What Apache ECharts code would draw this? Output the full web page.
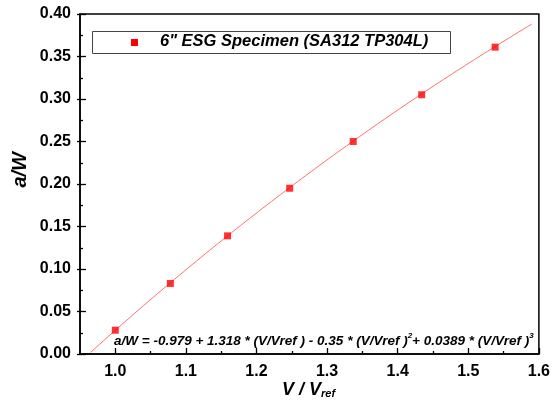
<!DOCTYPE html>
<html>
<head>
<meta charset="utf-8">
<script src="https://cdn.jsdelivr.net/npm/echarts@6/dist/echarts.min.js"></script>
<style>
  html, body { margin: 0; padding: 0; background: #fff; }
  #chart { width: 553px; height: 413px; }
</style>
</head>
<body>
<div id="chart"></div>
<script>
// Measured crack depth ratio against normalised potential drop
const ratioV = [1.0, 1.078, 1.159, 1.247, 1.337, 1.434, 1.538];
const ratioAW = [0.028, 0.083, 0.139, 0.195, 0.250, 0.305, 0.361];

// Cubic fit coefficients, a/W = c0 + c1*x + c2*x^2 + c3*x^3
const fitCoef = [-0.979, 1.318, -0.35, 0.0389];
const fitRange = [0.965, 1.59];

// Tick positions on the V/Vref axis
const xMajor = [1.0, 1.1, 1.2, 1.3, 1.4, 1.5, 1.6];
const xMinor = [1.05, 1.15, 1.25, 1.35, 1.45, 1.55];

const seriesName = '6" ESG Specimen (SA312 TP304L)';

function fitValue(x) {
  return fitCoef[0] + fitCoef[1] * x + fitCoef[2] * x * x + fitCoef[3] * x * x * x;
}
const fitLine = [];
for (let i = 0; i <= 100; i++) {
  const x = fitRange[0] + (fitRange[1] - fitRange[0]) * i / 100;
  fitLine.push([x, fitValue(x)]);
}

const chart = echarts.init(document.getElementById('chart'));
const font = 'Liberation Sans, Arial, sans-serif';
const tickStyle = { color: '#000', width: 1.3 };

chart.setOption({
  animation: false,
  backgroundColor: '#fff',
  grid: { left: 80, right: 13, top: 14, bottom: 59, show: true, borderColor: '#000', borderWidth: 1.5, backgroundColor: 'transparent' },
  xAxis: [{
    type: 'value', min: 0.95, max: 1.6, interval: 0.05,
    axisLine: { lineStyle: { color: '#000', width: 1.5 } },
    axisTick: { inside: true, length: 6, lineStyle: tickStyle, customValues: xMajor },
    splitLine: { show: false },
    axisLabel: {
      customValues: xMajor, margin: 10,
      color: '#000', fontFamily: font, fontWeight: 'bold', fontSize: 16,
      formatter: v => v.toFixed(1)
    }
  }, {
    type: 'value', min: 0.95, max: 1.6, interval: 0.05, position: 'bottom',
    axisLine: { show: false },
    axisTick: { inside: true, length: 3, lineStyle: tickStyle, customValues: xMinor },
    axisLabel: { show: false },
    splitLine: { show: false }
  }],
  yAxis: [{
    type: 'value', min: 0, max: 0.4, interval: 0.05,
    axisLine: { lineStyle: { color: '#000', width: 1.5 } },
    axisTick: { inside: true, length: 6, lineStyle: tickStyle },
    minorTick: { show: true, splitNumber: 2, length: 3, lineStyle: tickStyle },
    splitLine: { show: false },
    axisLabel: {
      margin: 9, color: '#000', fontFamily: font, fontWeight: 'bold', fontSize: 16,
      formatter: v => v.toFixed(2)
    }
  }, {
    type: 'value', min: 0, max: 0.4, interval: 0.05, position: 'left',
    axisLine: { show: false },
    axisTick: { inside: false, length: 3, lineStyle: tickStyle },
    axisLabel: { show: false },
    splitLine: { show: false }
  }],
  series: [{
    name: 'fit', type: 'line', data: fitLine, showSymbol: false, silent: true,
    lineStyle: { color: '#ff6f6f', width: 1 }, z: 2
  }, {
    name: seriesName, type: 'scatter',
    data: ratioV.map((v, i) => [v, ratioAW[i]]),
    symbol: 'rect', symbolSize: 7, itemStyle: { color: '#ff0000' }, z: 3
  }],
  graphic: [{
    type: 'rect', left: 92, top: 31,
    shape: { width: 358, height: 22 },
    style: { fill: '#fff', stroke: '#444', lineWidth: 1 }
  }, {
    type: 'rect', left: 131, top: 39,
    shape: { width: 7, height: 7 },
    style: { fill: '#ff0000' }
  }, {
    type: 'text', left: 160, top: 33,
    style: { text: seriesName, font: 'italic bold 16.5px ' + font, fill: '#000' }
  }, {
    type: 'text', left: 10, top: 152, rotation: Math.PI / 2,
    style: { text: 'a/W', font: 'italic bold 20px ' + font, fill: '#000' }
  }, {
    type: 'text', left: 282, top: 381,
    style: {
      text: '{m|V / V}{s|ref}',
      rich: {
        m: { font: 'italic bold 18px ' + font, fill: '#000', verticalAlign: 'bottom' },
        s: { font: 'italic bold 11px ' + font, fill: '#000', padding: [12, 0, 0, 0], verticalAlign: 'bottom' }
      }
    }
  }, {
    type: 'text', left: 114, top: 332,
    style: {
      text: '{t|a/W = -0.979 + 1.318 * (V/Vref ) - 0.35 * (V/Vref )}{p|2}{t|+ 0.0389 * (V/Vref )}{p|3}',
      rich: {
        t: { font: 'italic bold 13.5px ' + font, fill: '#000', verticalAlign: 'bottom' },
        p: { font: 'italic bold 8px ' + font, fill: '#000', padding: [0, 0, 8, 0], verticalAlign: 'bottom' }
      }
    }
  }]
});
</script>
</body>
</html>
